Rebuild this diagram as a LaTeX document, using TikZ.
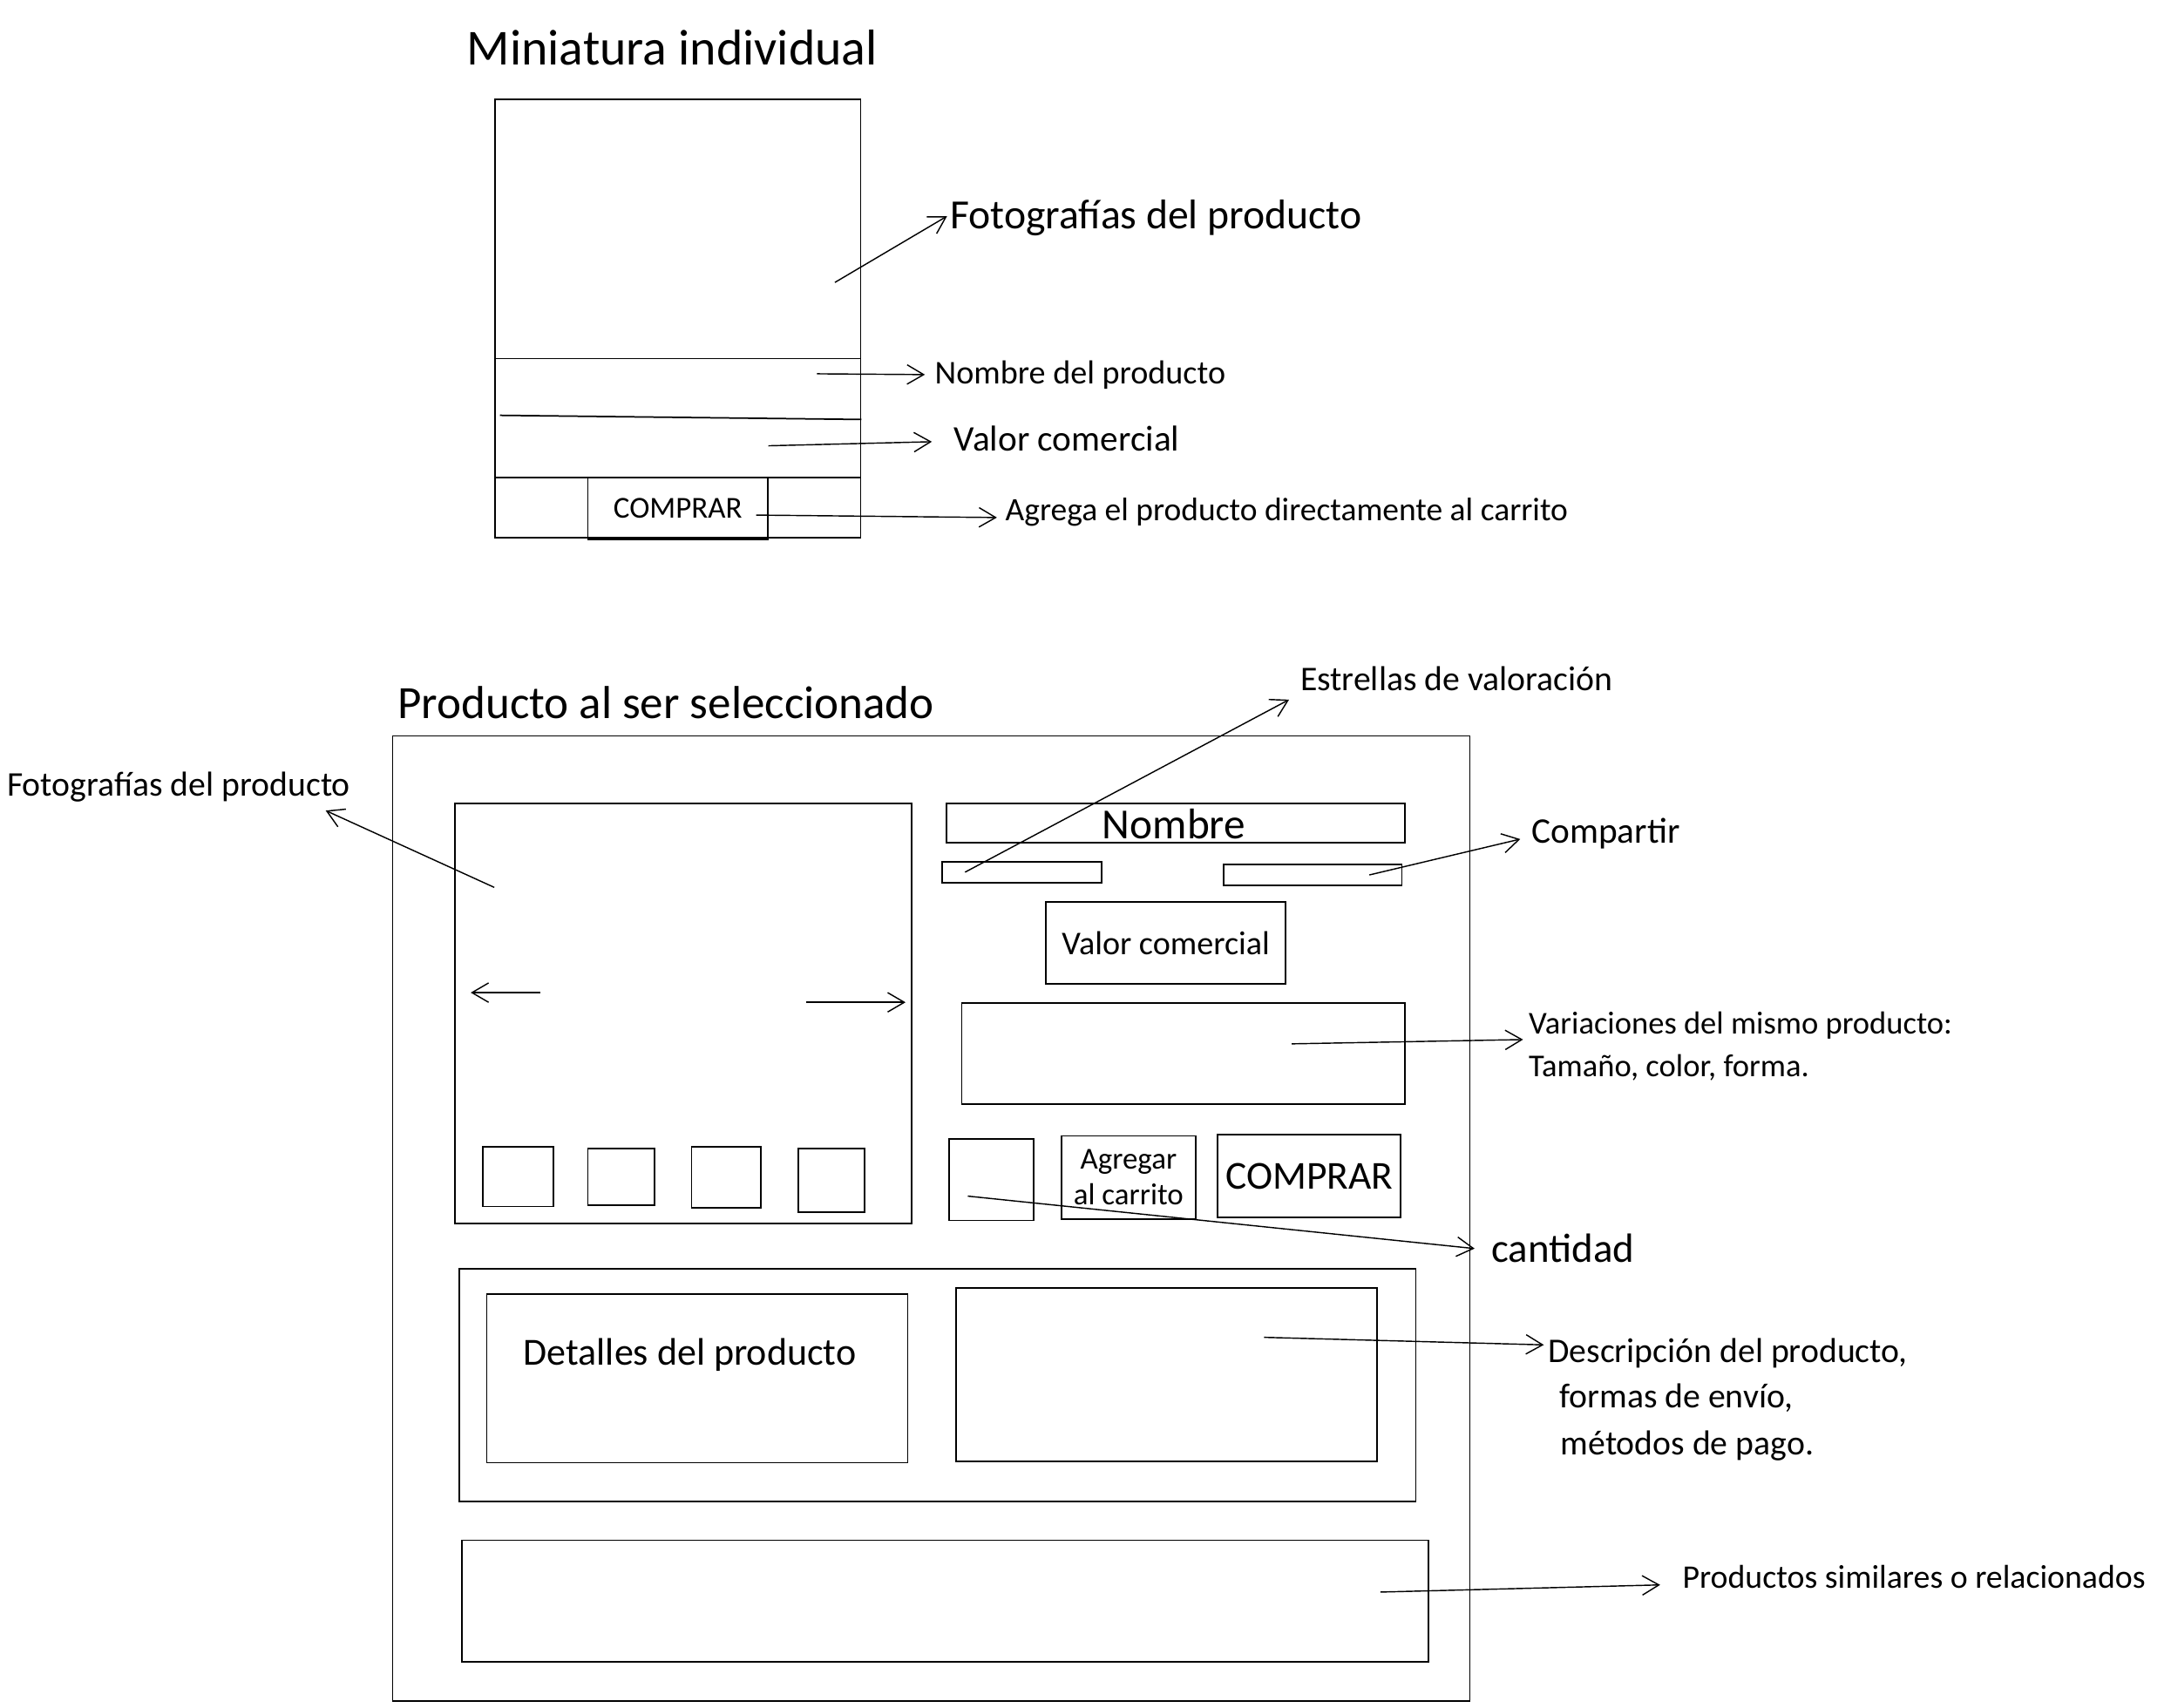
\documentclass[tikz,border=0pt]{standalone}
\usepackage{fontspec}
\setmainfont{Carlito}
\usetikzlibrary{arrows.meta}
\newcommand\fsz[1]{\fontsize{#1}{#1}\selectfont}
\tikzset{
  box/.style={draw, line width=1.1pt, inner sep=0pt, anchor=north west},
  arr/.style={line width=0.9pt, -{Straight Barb[length=12pt,width=14pt,line width=0.9pt]}},
  lbl/.style={inner sep=2pt, anchor=base west},
}
\begin{document}
\begin{tikzpicture}[x=1pt,y=-1pt]
\useasboundingbox (0,0) rectangle (1568,1233.75);

% ---------- Miniatura individual ----------
\node[lbl, font=\fsz{36.4}] (title1) at (335,47) {Miniatura individual};
\node[box, minimum width=264pt, minimum height=317pt] (card) at (357,71) {};
\draw[line width=1.1pt] (card.west |- 0,259) -- (card.east |- 0,259);
\draw[line width=1.1pt] (361,300) -- (card.east |- 0,303);
\draw[line width=1.1pt] (card.west |- 0,345) -- (card.east |- 0,345);
\node[box, minimum width=130pt, minimum height=45pt, font=\fsz{22}] (btnTop) at (424,344) {COMPRAR};

\node[lbl, font=\fsz{30}] (lFotoT) at (684,165) {Fotografías del producto};
\node[lbl, font=\fsz{24}] (lNom) at (673,277) {Nombre del producto};
\node[lbl, font=\fsz{26}] (lVal) at (687,326) {Valor comercial};
\node[lbl, font=\fsz{23.6}] (lAgr) at (724,376) {Agrega el producto directamente al carrito};

\coordinate (sFotoT) at (603,204);
\coordinate (sNom) at (590,270);
\coordinate (sVal) at (555,322);
\draw[arr] (sFotoT) -- ([yshift=1pt]lFotoT.west);
\draw[arr] (sNom) -- ([xshift=-5pt]lNom.west);
\draw[arr] (sVal) -- ([xshift=-14pt,yshift=-2pt]lVal.west);
\draw[arr] ([xshift=-9pt,yshift=-5pt]btnTop.east) -- ([xshift=-4pt,yshift=-4pt]lAgr.west);

% ---------- Producto al ser seleccionado ----------
\node[lbl, font=\fsz{33.4}] (title2) at (285,519) {Producto al ser seleccionado};
\node[box, minimum width=778pt, minimum height=697pt] (page) at (283,531) {};

\node[box, minimum width=330pt, minimum height=303pt] (photo) at (328,580) {};
\node[box, minimum width=51pt, minimum height=43pt] (th1) at (348,828) {};
\node[box, minimum width=48pt, minimum height=41pt] (th2) at (424,829) {};
\node[box, minimum width=50pt, minimum height=44pt] (th3) at (499,828) {};
\node[box, minimum width=48pt, minimum height=46pt] (th4) at (576,829) {};
\coordinate (pl1) at (390,717); \coordinate (pl2) at (340,717);
\coordinate (pr1) at (582,724); \coordinate (pr2) at (654,724);
\draw[arr] (pl1) -- (pl2);
\draw[arr] (pr1) -- (pr2);

\node[box, minimum width=331pt, minimum height=28pt] (nameBox) at (683,580) {};
\node[lbl, font=\fsz{31}] (nameLbl) at (794,606) {Nombre};
\node[box, minimum width=115pt, minimum height=15pt] (starsBox) at (680,622) {};
\node[box, minimum width=129pt, minimum height=15pt] (shareBox) at (883,624) {};
\node[box, minimum width=173pt, minimum height=59pt, font=\fsz{24}] (priceBox) at (755,651) {Valor comercial};
\node[box, minimum width=320pt, minimum height=73pt] (varBox) at (694,724) {};
\node[box, minimum width=61pt, minimum height=59pt] (qtyBox) at (685,822) {};
\node[box, minimum width=97pt, minimum height=60pt, font=\fontsize{22}{26}\selectfont, align=center] (cartBox) at (766,820) {Agregar\\al carrito};
\node[box, minimum width=132pt, minimum height=60pt, font=\fsz{28.6}] (buyBox) at (879,819) {COMPRAR};

\node[box, minimum width=691pt, minimum height=168pt] (infoBox) at (331,916) {};
\node[box, minimum width=304pt, minimum height=122pt] (detBox) at (351,934) {};
\node[lbl, font=\fsz{27.7}] (detLbl) at (376,986) {Detalles del producto};
\node[box, minimum width=304pt, minimum height=125pt] (descBox) at (690,930) {};
\node[box, minimum width=698pt, minimum height=88pt] (relBox) at (333,1112) {};

% labels
\node[lbl, font=\fsz{25}] (lFotoL) at (3,575) {Fotografías del producto};
\node[lbl, font=\fsz{25}] (lEst) at (937,499) {Estrellas de valoración};
\node[lbl, font=\fsz{26}] (lComp) at (1104,609) {Compartir};
\node[lbl, font=\fsz{23}] (lVar1) at (1102,747) {Variaciones del mismo producto:};
\node[lbl, font=\fsz{23}] (lVar2) at (1102,778) {Tamaño, color, forma.};
\node[lbl, font=\fsz{29.5}] (lCant) at (1075,912) {cantidad};
\node[lbl, font=\fsz{25}] (lDesc1) at (1116,984) {Descripción del producto,};
\node[lbl, font=\fsz{25}] (lDesc2) at (1124,1017) {formas de envío,};
\node[lbl, font=\fsz{25}] (lDesc3) at (1125,1051) {métodos de pago.};
\node[lbl, font=\fsz{23.8}] (lRel) at (1213,1147) {Productos similares o relacionados};

% connectors
\coordinate (sFotoL) at (357,641);
\coordinate (sEst) at (697,630);
\coordinate (sComp) at (989,632);
\coordinate (sVar) at (933,754);
\coordinate (sCant) at (699,864);
\coordinate (sDesc) at (913,966);
\coordinate (sRel) at (997,1150);
\draw[arr] (sFotoL) -- ([xshift=-20pt,yshift=-4pt]lFotoL.south east);
\draw[arr] (sEst) -- ([xshift=-6pt,yshift=-4pt]lEst.south west);
\draw[arr] (sComp) -- ([xshift=-6pt,yshift=-4pt]lComp.west);
\draw[arr] (sVar) -- ([xshift=-2pt,yshift=2pt]lVar1.south west);
\draw[arr] (sCant) -- ([xshift=-10pt]lCant.west);
\draw[arr] (sDesc) -- ([xshift=-1pt,yshift=-7pt]lDesc1.north west);
\draw[arr] (sRel) -- ([xshift=-14pt,yshift=-6pt]lRel.west);
\end{tikzpicture}
\end{document}
